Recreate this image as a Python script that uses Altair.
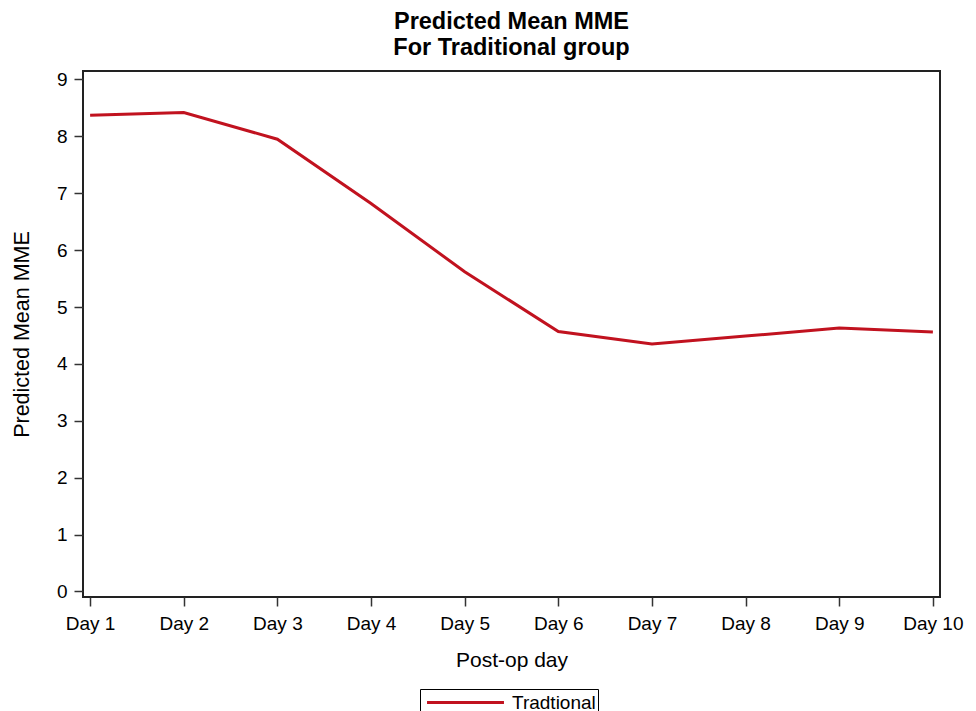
import altair as alt
import pandas as pd

days = ["Day 1", "Day 2", "Day 3", "Day 4", "Day 5", "Day 6", "Day 7", "Day 8", "Day 9", "Day 10"]
mme = [8.37, 8.42, 7.95, 6.82, 5.62, 4.57, 4.35, 4.49, 4.63, 4.56]
group = ["Tradtional"] * len(days)
y_ticks = [0, 1, 2, 3, 4, 5, 6, 7, 8, 9]

df = pd.DataFrame({"day": days, "mme": mme, "group": group})

FONT = "Liberation Sans"
RED = "#C1121F"

chart = alt.Chart(df).mark_line(strokeWidth=3).encode(
    x=alt.X("day:O", sort=days,
            scale=alt.Scale(type="point", padding=0.076),
            axis=alt.Axis(title="Post-op day", labelAngle=0, labelFontSize=19,
                          titleFontSize=21, titleFontWeight="normal",
                          tickSize=9, tickWidth=1.5, tickColor="#333333",
                          labelPadding=8, titlePadding=16, domain=False,
                          labelColor="black", titleColor="black", grid=False)),
    y=alt.Y("mme:Q",
            scale=alt.Scale(domain=[-0.097, 9.149], nice=False, zero=False),
            axis=alt.Axis(title="Predicted Mean MME", values=y_ticks, labelFontSize=19,
                          titleFontSize=21.5, titleFontWeight="normal",
                          tickSize=9, tickWidth=1.5, tickColor="#333333",
                          labelPadding=7, titlePadding=23, domain=False,
                          labelColor="black", titleColor="black", grid=False)),
    color=alt.Color("group:N", scale=alt.Scale(range=[RED]),
                    legend=alt.Legend(title=None, orient="none", legendX=337, legendY=618,
                                      strokeColor="black", padding=2,
                                      symbolType="M-4,0H4", symbolSize=370,
                                      symbolStrokeWidth=3, symbolOffset=32,
                                      labelFontSize=19, labelOffset=35,
                                      labelColor="black")),
).properties(
    width=857,
    height=526,
    title=alt.TitleParams(text="Predicted Mean MME", subtitle="For Traditional group",
                          fontSize=23.5, subtitleFontSize=23.5, fontWeight="bold",
                          subtitleFontWeight="bold", color="black", subtitleColor="black",
                          anchor="middle", frame="group", offset=11, subtitlePadding=2,
                          font=FONT, subtitleFont=FONT),
    autosize=alt.AutoSizeParams(type="none"),
    padding={"left": 75, "top": 63, "right": 28, "bottom": 150},
).configure(
    font=FONT,
).configure_axis(
    labelFont=FONT, titleFont=FONT,
).configure_legend(
    labelFont=FONT,
).configure_view(
    stroke="#222222", strokeWidth=2,
)

chart.save("out.html", embed_options={"renderer": "svg", "actions": False})
